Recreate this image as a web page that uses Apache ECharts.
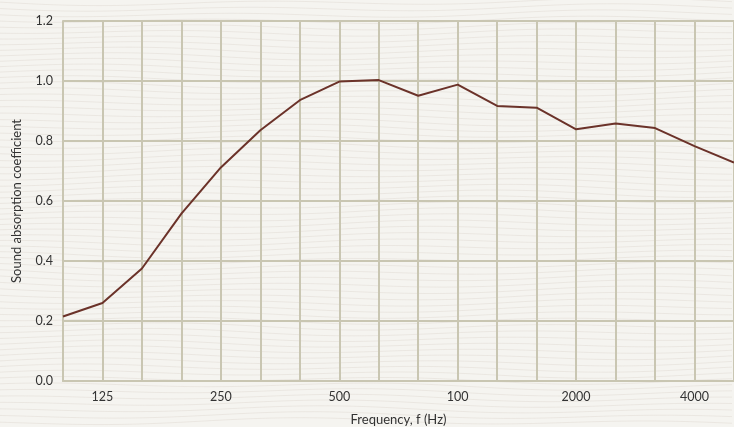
<!DOCTYPE html>
<html>
<head>
<meta charset="utf-8">
<script src="https://cdn.jsdelivr.net/npm/echarts@6/dist/echarts.min.js"></script>
<style>
    html, body { margin: 0; padding: 0; background: #f5f4f0; }
    #chart { width: 734px; height: 427px; }
</style>
</head>
<body>
<div id="chart"></div>
<script>
// 1/3 倍频程中心频率
const frequencies = ['100', '125', '160', '200', '250', '315', '400', '500', '630',
    '800', '1000', '1250', '1600', '2000', '2500', '3150', '4000', '5000'];

// 横轴上实际显示的刻度文字(原图 1000 处写成了 100)
const xTickLabels = ['', '125', '', '', '250', '', '', '500', '',
    '', '100', '', '', '2000', '', '', '4000', ''];

// 吸声系数
const absorption = [0.215, 0.26, 0.375, 0.558, 0.712, 0.836, 0.936, 0.998, 1.003,
    0.951, 0.988, 0.917, 0.911, 0.839, 0.858, 0.843, 0.783, 0.728];

const gridColor = '#c9c6b2';
const textColor = '#333333';
const fontFamily = 'Lato, "Noto Sans", sans-serif';

// 背景木纹贴图(仅作装饰)
function makeWoodPattern() {
    const c = document.createElement('canvas');
    c.width = 734;
    c.height = 427;
    const ctx = c.getContext('2d');
    ctx.fillStyle = '#f5f4f0';
    ctx.fillRect(0, 0, c.width, c.height);
    ctx.strokeStyle = 'rgba(215, 205, 198, 0.35)';
    ctx.lineWidth = 1;
    for (let y = 2; y < c.height; y += 6) {
        ctx.beginPath();
        for (let x = 0; x <= c.width; x += 6) {
            const dy = 2.5 * Math.sin(x / 57 + y / 23) + 1.8 * Math.sin(x / 131 - y / 41);
            if (x === 0) ctx.moveTo(x, y + dy);
            else ctx.lineTo(x, y + dy);
        }
        ctx.stroke();
    }
    return c;
}

const chart = echarts.init(document.getElementById('chart'));

chart.setOption({
    backgroundColor: { image: makeWoodPattern(), repeat: 'no-repeat' },
    animation: false,
    grid: { left: 63, right: 0, top: 21, bottom: 46, containLabel: false, outerBoundsMode: 'none' },
    xAxis: {
        type: 'category',
        data: frequencies,
        boundaryGap: false,
        name: 'Frequency, f (Hz)',
        nameLocation: 'middle',
        nameGap: 32,
        nameTextStyle: { color: textColor, fontSize: 13, fontFamily: fontFamily },
        axisLine: { show: true, lineStyle: { color: gridColor, width: 2 } },
        axisTick: { show: false },
        axisLabel: {
            interval: 0,
            margin: 9,
            color: textColor,
            fontSize: 12.5,
            fontFamily: fontFamily,
            formatter: (value, index) => xTickLabels[index]
        },
        splitLine: { show: true, interval: 0, lineStyle: { color: gridColor, width: 2 } }
    },
    yAxis: {
        type: 'value',
        min: 0,
        max: 1.2,
        interval: 0.2,
        name: 'Sound absorption coefficient',
        nameLocation: 'middle',
        nameGap: 40,
        nameTextStyle: { color: textColor, fontSize: 13, fontFamily: fontFamily },
        axisLine: { show: true, lineStyle: { color: gridColor, width: 2 } },
        axisTick: { show: false },
        axisLabel: {
            margin: 10,
            color: textColor,
            fontSize: 12.5,
            fontFamily: fontFamily,
            formatter: (v) => v.toFixed(1)
        },
        splitLine: { show: true, lineStyle: { color: gridColor, width: 2 } }
    },
    series: [{
        type: 'line',
        data: absorption,
        symbol: 'none',
        lineStyle: { color: '#6b3229', width: 2 }
    }]
});
</script>
</body>
</html>
